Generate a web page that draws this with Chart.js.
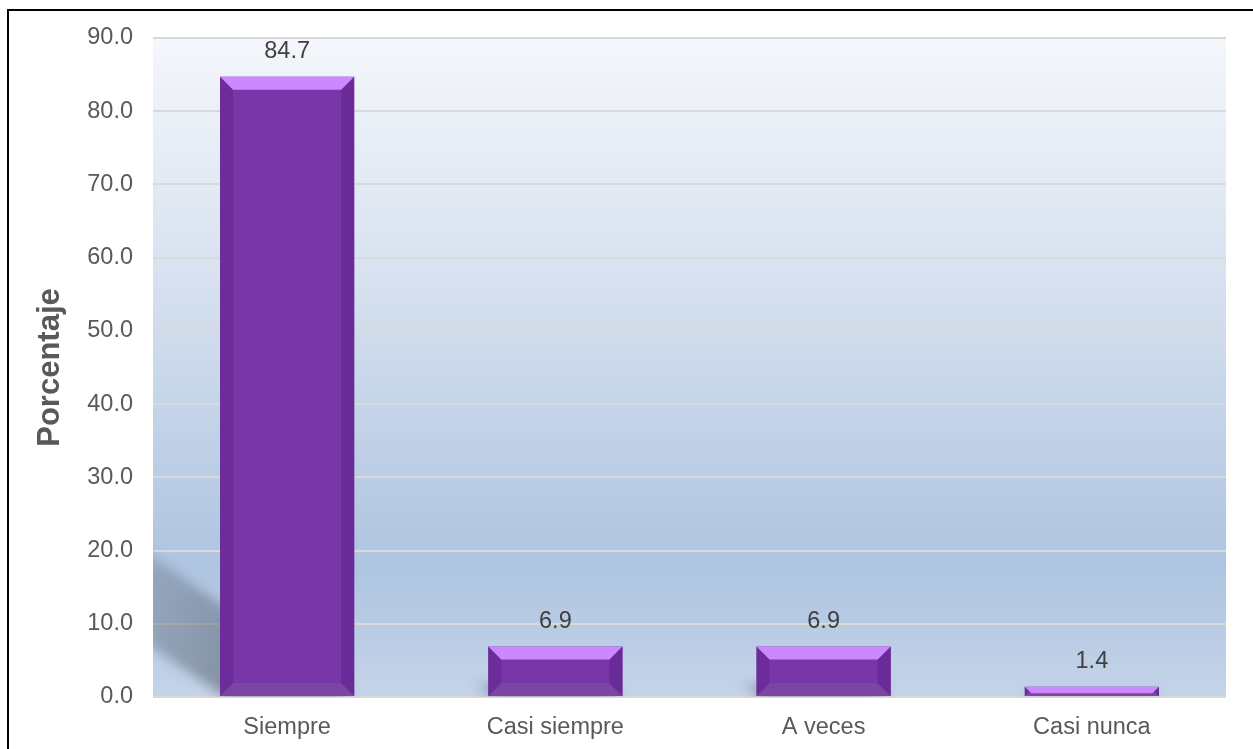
<!DOCTYPE html>
<html>
<head>
<meta charset="utf-8">
<script src="https://cdn.jsdelivr.net/npm/chart.js@4/dist/chart.umd.min.js"></script>
<style>
  body { margin: 0; background: #fff; overflow: hidden; }
  #wrap { position: relative; width: 1253px; height: 749px; }
  #frame { position: absolute; left: 7px; top: 9px; width: 1300px; height: 800px;
           border: 2px solid #000; pointer-events: none; }
</style>
</head>
<body>
<div id="wrap">
  <canvas id="myChart" width="1253" height="749"></canvas>
  <div id="frame"></div>
</div>
<script>
const categories = ['Siempre', 'Casi siempre', 'A veces', 'Casi nunca'];
const porcentajes = [84.7, 6.9, 6.9, 1.4];
const yTicks = [0, 10, 20, 30, 40, 50, 60, 70, 80, 90];

const FONT = '"Liberation Sans", Arial, sans-serif';
const TEXT_SIZE = 23.5;

// plot area background: pale at top, blue towards the bottom
const plotBackground = {
  id: 'plotBackground',
  beforeDraw(chart) {
    const { ctx, chartArea: a } = chart;
    const g = ctx.createLinearGradient(0, a.top, 0, a.bottom);
    g.addColorStop(0, '#f4f7fb');
    g.addColorStop(0.4, '#d4dfee');
    g.addColorStop(0.8, '#aec4e0');
    g.addColorStop(1, '#c4d4e9');
    ctx.save();
    ctx.fillStyle = g;
    ctx.fillRect(a.left, a.top, a.right - a.left, a.bottom - a.top);
    ctx.restore();
  }
};

// soft shadow thrown up-left from the foot of each bar
const barShadow = {
  id: 'barShadow',
  beforeDatasetsDraw(chart) {
    const { ctx, chartArea: a } = chart;
    const meta = chart.getDatasetMeta(0);
    ctx.save();
    ctx.beginPath();
    ctx.rect(a.left, a.top, a.right - a.left, a.bottom - a.top);
    ctx.clip();
    meta.data.forEach(bar => {
      const h = bar.base - bar.y;
      const xl = bar.x - bar.width / 2, xr = bar.x + bar.width / 2;
      const dx = h * 0.35, dy = dx * 0.69;
      const g = ctx.createLinearGradient(xl, bar.base, xl - dx, bar.base - dy);
      g.addColorStop(0, 'rgba(70,80,95,0.5)');
      g.addColorStop(1, 'rgba(70,80,95,0)');
      ctx.filter = 'blur(6px)';
      ctx.fillStyle = g;
      ctx.beginPath();
      ctx.moveTo(xl + 4, bar.base);
      ctx.lineTo(xr, bar.base);
      ctx.lineTo(xr - dx, bar.base - dy);
      ctx.lineTo(xl - dx, bar.base - dy);
      ctx.closePath();
      ctx.fill();
    });
    ctx.filter = 'none';
    ctx.restore();
  }
};

// bevelled faces on each bar and the value above it
const bevelBars = {
  id: 'bevelBars',
  afterDatasetsDraw(chart) {
    const { ctx } = chart;
    const meta = chart.getDatasetMeta(0);
    const values = chart.data.datasets[0].data;
    meta.data.forEach((bar, i) => {
      const top = bar.y, bot = bar.base;
      const xl = bar.x - bar.width / 2, xr = bar.x + bar.width / 2;
      const h = bot - top;
      const b = Math.min(13, h * 0.7);
      const poly = (pts, color) => {
        ctx.fillStyle = color;
        ctx.beginPath();
        ctx.moveTo(pts[0][0], pts[0][1]);
        for (let k = 1; k < pts.length; k++) ctx.lineTo(pts[k][0], pts[k][1]);
        ctx.closePath();
        ctx.fill();
      };
      ctx.save();
      poly([[xl, top], [xr, top], [xr, bot], [xl, bot]], '#7836a8');
      poly([[xl, bot], [xl + b, bot - b], [xr - b, bot - b], [xr, bot]], '#7a45a3');
      poly([[xl, top], [xl + b, top + b], [xl + b, bot - b], [xl, bot]], '#6c2d9b');
      poly([[xr, top], [xr - b, top + b], [xr - b, bot - b], [xr, bot]], '#692b97');
      poly([[xl, top], [xr, top], [xr - b, top + b], [xl + b, top + b]], '#cc88ff');

      ctx.fillStyle = '#404040';
      ctx.font = TEXT_SIZE + 'px ' + FONT;
      ctx.textAlign = 'center';
      ctx.textBaseline = 'middle';
      ctx.fillText(values[i].toFixed(1), bar.x, top - 25);
      ctx.restore();
    });
  }
};

const ctx = document.getElementById('myChart').getContext('2d');
const myChart = new Chart(ctx, {
  type: 'bar',
  data: {
    labels: categories,
    datasets: [{
      data: porcentajes,
      backgroundColor: 'rgba(0,0,0,0)',
      categoryPercentage: 1,
      barPercentage: 0.5
    }]
  },
  options: {
    responsive: false,
    animation: false,
    layout: { padding: { left: 0, top: 38, right: 27, bottom: 0 } },
    plugins: {
      legend: { display: false },
      tooltip: { enabled: false }
    },
    scales: {
      x: {
        offset: true,
        grid: { display: false, drawTicks: false },
        border: { display: false },
        ticks: { color: '#595959', font: { family: FONT, size: TEXT_SIZE }, padding: 16 },
        afterFit(scale) { scale.height = 52; }
      },
      y: {
        min: 0,
        max: 90,
        afterBuildTicks(scale) { scale.ticks = yTicks.map(v => ({ value: v })); },
        grid: { color: '#d9d9d9', lineWidth: 2, drawTicks: false },
        border: { display: false },
        ticks: {
          color: '#595959',
          font: { family: FONT, size: TEXT_SIZE },
          padding: 20,
          callback: v => v.toFixed(1)
        },
        title: {
          display: true,
          text: 'Porcentaje',
          color: '#595959',
          font: { family: FONT, size: 31, weight: 'bold' },
          padding: { top: 32, bottom: 0 }
        },
        afterFit(scale) { scale.width = 153; }
      }
    }
  },
  plugins: [plotBackground, barShadow, bevelBars]
});
</script>
</body>
</html>
